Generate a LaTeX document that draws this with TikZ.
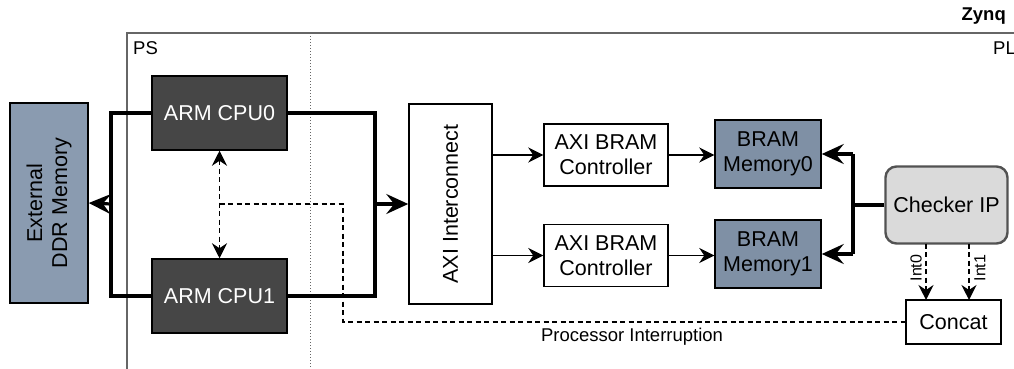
\documentclass[tikz,border=0pt]{standalone}
\usepackage{fontspec}
\setmainfont{Liberation Sans}
\usetikzlibrary{arrows.meta}
\definecolor{ddrcol}{HTML}{8A9BB0}
\definecolor{memcol}{HTML}{7F90A5}
\definecolor{cpucol}{HTML}{464646}
\definecolor{chkcol}{HTML}{DADADA}
\definecolor{framecol}{HTML}{666666}
\tikzset{dtip/.tip={Stealth[length=15pt,width=15pt,inset=5pt]},
  btip/.tip={Stealth[length=22pt,width=20pt,inset=8pt]}}
\begin{document}
\begin{tikzpicture}[x=1pt,y=-1pt,
  blk/.style={draw=black,line width=1.5pt,inner sep=0pt,align=center,font=\fontsize{21.5}{25}\selectfont},
  cpubox/.style={blk,fill=cpucol,text=white,minimum width=135pt,minimum height=74pt},
  membox/.style={blk,fill=memcol,minimum width=106pt,minimum height=68pt},
  ctrlbox/.style={blk,fill=white,minimum width=124pt,minimum height=62pt},
  bus/.style={line width=3.2pt},
  bustip/.style={-{btip}},
  thin/.style={line width=1.5pt,-{dtip}},
  dsh/.style={line width=1.5pt,dash pattern=on 5pt off 3.5pt},
  lbl/.style={font=\fontsize{18.5}{22}\selectfont,inner sep=0pt}]
\useasboundingbox (0,0) rectangle (1014,369);
% frame
\draw[framecol,line width=1.8pt] (1014,33) -- (127,33) -- (127,369);
\draw[framecol,line width=1pt,dotted] (310,33) -- (310,369);
\node[lbl,font=\bfseries\fontsize{18.5}{22}\selectfont,anchor=east] (zynq) at (1006,16) {Zynq};
\node[lbl,anchor=west] (ps) at (133,48) {PS};
\node[lbl,anchor=east] (pl) at (1016,48) {PL};
% blocks
\node[blk,fill=ddrcol,minimum width=78pt,minimum height=200pt] (ddr) at (49,203) {};
\node[rotate=90,align=center,font=\fontsize{21.5}{25}\selectfont] at (ddr.center) {External\\DDR Memory};
\node[cpubox] (cpu0) at (219.5,113) {ARM CPU0};
\node[cpubox] (cpu1) at (219.5,296) {ARM CPU1};
\node[blk,fill=white,minimum width=83pt,minimum height=200pt] (axi) at (450.5,204) {};
\node[rotate=90,font=\fontsize{21.5}{25}\selectfont] at (axi.center) {AXI Interconnect};
\node[ctrlbox] (ctrl0) at (606,155) {AXI BRAM\\Controller};
\node[ctrlbox] (ctrl1) at (606,255.5) {AXI BRAM\\Controller};
\node[membox] (mem0) at (768,154) {BRAM\\Memory0};
\node[membox] (mem1) at (768,254) {BRAM\\Memory1};
\node[blk,draw=framecol!80!black,line width=2.4pt,fill=chkcol,rounded corners=11pt,minimum width=122pt,minimum height=77pt] (chk) at (946.5,205) {Checker IP};
\node[blk,fill=white,minimum width=95pt,minimum height=44pt] (concat) at (953.5,322) {Concat};
% left bus
\coordinate (lb) at (111,204);
\coordinate (rb) at (375,204);
\draw[bus] (cpu0.west) -- (111,113) -- (111,296) -- (cpu1.west);
\draw[bus,bustip] (lb) -- (ddr.east);
\draw[bus] (cpu0.east) -- (375,113) -- (375,296) -- (cpu1.east);
\draw[bus,bustip] (rb) -- (axi.west);
% axi to controllers
\draw[thin] (axi.east |- ctrl0.west) -- (ctrl0.west);
\draw[thin] (axi.east |- ctrl1.west) -- (ctrl1.west);
\draw[thin] (ctrl0.east) -- (ctrl0.east -| mem0.west);
\draw[thin] (ctrl1.east) -- (ctrl1.east -| mem1.west);
% checker bus
\coordinate (cb) at (853,205);
\draw[bus] (chk.west) -- (cb);
\draw[bus] (853,154) -- (853,254);
\draw[bus,bustip] (853,154) -- (mem0.east);
\draw[bus,bustip] (853,254) -- (mem1.east);
% cpu interconnect
\draw[dsh,{dtip}-{dtip}] (cpu0.south) -- (cpu1.north);
\coordinate (ip) at (219.5,204);
\draw[dsh] (ip) -- (343,204) -- (343,322) -- (concat.west);
\node[lbl,anchor=north] (pint) at (632,328) {Processor Interruption};
% interrupts
\draw[dsh,-{dtip}] (926,243.5) -- (926,300);
\draw[dsh,-{dtip}] (969,243.5) -- (969,300);
\node[lbl,rotate=90,font=\fontsize{16}{18}\selectfont] (int0) at (916,268) {Int0};
\node[lbl,rotate=90,font=\fontsize{16}{18}\selectfont] (int1) at (980,268) {Int1};
\end{tikzpicture}
\end{document}
